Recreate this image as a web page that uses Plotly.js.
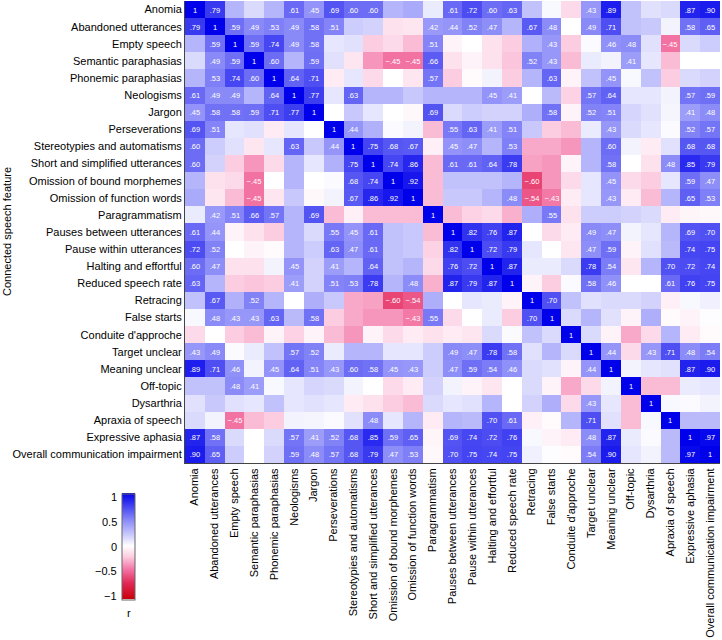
<!DOCTYPE html>
<html>
<head>
<meta charset="utf-8">
<script src="https://cdn.plot.ly/plotly-3.0.1.min.js"></script>
<style>html,body{margin:0;padding:0;background:#fff;}#chart{width:722px;height:640px;}</style>
</head>
<body>
<div id="chart"></div>
<script>
const features = ["Anomia","Abandoned utterances","Empty speech","Semantic paraphasias","Phonemic paraphasias","Neologisms","Jargon","Perseverations","Stereotypies and automatisms","Short and simplified utterances","Omission of bound morphemes","Omission of function words","Paragrammatism","Pauses between utterances","Pause within utterances","Halting and effortful","Reduced speech rate","Retracing","False starts","Conduite d'approche","Target unclear","Meaning unclear","Off-topic","Dysarthria","Apraxia of speech","Expressive aphasia","Overall communication impairment"];

// Upper-triangle correlations (each row: values with the following features)
const rAnomia = [.79,.30,.15,.30,.61,.45,.69,.60,.60,.30,.35,.08,.61,.72,.60,.63,.25,.03,-.15,.43,.89,.25,.12,.15,.87,.90];
const rAbandoned = [.59,.49,.53,.49,.58,.51,.20,.18,-.12,-.10,.42,.44,.52,.47,.30,.67,.48,0,.49,.71,.25,.22,.05,.58,.65];
const rEmpty = [.59,.74,.49,.58,.10,.12,-.20,-.15,-.25,.51,-.05,0,-.12,-.20,.32,.43,-.20,.02,.46,.48,.12,-.45,.15,.20];
const rSemantic = [.60,.30,.59,.12,-.10,-.35,-.45,-.45,.66,-.12,-.05,-.12,-.22,.52,.43,-.25,.08,.05,.41,.10,-.25,0,0];
const rPhonemic = [.64,.71,-.08,.10,-.15,0,-.10,.57,-.20,-.02,.05,-.20,.30,.63,-.05,.25,.45,.03,.25,-.20,.15,.18];
const rNeologisms = [.77,.10,.63,.30,.30,.22,.30,.30,.30,.45,.41,0,.28,-.18,.57,.64,.10,.10,.05,.57,.59];
const rJargon = [0,.22,.10,0,-.03,.69,.15,.20,.18,.18,.33,.58,-.05,.52,.51,.17,.12,.04,.41,.48];
const rPerseverations = [.44,.32,.02,.05,-.25,.55,.63,.41,.51,.22,-.20,-.25,.08,.43,.15,.10,.02,.52,.57];
const rStereotypies = [.75,.68,.67,-.06,.45,.47,.30,.53,-.30,-.30,-.35,.30,.60,.05,-.08,.12,.68,.68];
const rShort = [.74,.86,-.25,.61,.61,.64,.78,-.32,-.35,-.05,.30,.58,0,-.12,.48,.85,.79];
const rBoundMorph = [.92,-.25,.25,.25,.25,.30,-.60,-.35,-.15,.10,.45,-.15,-.20,.10,.59,.47];
const rFunctionWords = [-.25,.22,.22,.30,.48,-.54,-.43,-.08,.10,.43,-.08,-.25,.30,.65,.53];
const rParagrammatism = [-.25,-.18,-.15,-.28,.33,.55,-.12,.20,.20,.18,.15,-.08,-.04,-.03];
const rPausesBetween = [.82,.76,.87,0,-.15,-.08,.49,.47,.05,.10,.30,.69,.70];
const rPauseWithin = [.72,.79,.10,0,-.10,.47,.59,-.05,.12,.28,.74,.75];
const rHalting = [.87,.08,.08,.15,.78,.54,-.10,.30,.70,.72,.74];
const rReducedRate = [-.05,-.20,.02,.58,.46,0,0,.61,.76,.75];
const rRetracing = [.70,.25,.12,.15,.15,.18,-.06,.03,.06];
const rFalseStarts = [.15,.30,.12,-.05,.33,-.02,-.05,.01];
const rConduite = [.15,-.05,-.30,-.15,.30,-.08,-.02];
const rTargetUnclear = [.44,-.15,.43,.71,.48,.54];
const rMeaningUnclear = [.05,.10,.12,.87,.90];
const rOffTopic = [-.25,-.25,.08,.10];
const rDysarthria = [.03,.02,.05];
const rApraxia = [.28,.28];
const rExpressive = [.97];

const colorbarTicks = [1, 0.5, 0, -0.5, -1];
const colorbarTickText = ["1", "0.5", "0", "\u22120.5", "\u22121"];

const upper = [rAnomia,rAbandoned,rEmpty,rSemantic,rPhonemic,rNeologisms,rJargon,rPerseverations,rStereotypies,rShort,rBoundMorph,rFunctionWords,rParagrammatism,rPausesBetween,rPauseWithin,rHalting,rReducedRate,rRetracing,rFalseStarts,rConduite,rTargetUnclear,rMeaningUnclear,rOffTopic,rDysarthria,rApraxia,rExpressive];

const n = features.length;
const z = [];
for (let i = 0; i < n; i++) { z.push(new Array(n).fill(0)); z[i][i] = 1; }
upper.forEach((row, i) => row.forEach((v, k) => { const j = i + 1 + k; z[i][j] = v; z[j][i] = v; }));

function fmt(v) {
  if (v === 1) return "1";
  if (Math.abs(v) < 0.4) return "";
  const s = Math.round(Math.abs(v) * 100).toString().padStart(2, "0");
  return (v < 0 ? "\u2212" : "") + "." + s;
}
const text = z.map(r => r.map(fmt));

const W = 722, H = 640;
const M = {l: 185, r: 2, t: 1, b: 177};
const PW = W - M.l - M.r, PH = H - M.t - M.b;
const px = x => (x - M.l) / PW;
const py = y => (H - M.b - y) / PH;

const FONT = "Liberation Sans, Arial, sans-serif";

const cbTop = 497, cbBottom = 596;
const annotations = colorbarTicks.map((t, i) => ({
  xref: "paper", yref: "paper",
  x: px(119), y: py(cbTop + (1 - t) / 2 * (cbBottom - cbTop)),
  xanchor: "right", yanchor: "middle", showarrow: false,
  text: colorbarTickText[i], font: {family: FONT, size: 11, color: "#000"}
}));
annotations.push({xref: "paper", yref: "paper", x: px(128.5), y: py(613), xanchor: "center", yanchor: "middle",
  showarrow: false, text: "r", font: {family: FONT, size: 11, color: "#000"}});
annotations.push({xref: "paper", yref: "paper", x: px(7), y: py(232), xanchor: "center", yanchor: "middle",
  showarrow: false, textangle: -90, text: "Connected speech feature", font: {family: FONT, size: 11, color: "#000"}});

const trace = {
  type: "heatmap",
  x: features, y: features, z: z,
  text: text, texttemplate: "%{text}",
  textfont: {family: FONT, size: 7.5, color: "#ffffff"},
  zmin: -1, zmax: 1,
  colorscale: [[0, "rgb(200,0,10)"], [0.15, "rgb(225,40,85)"], [0.27, "rgb(242,110,160)"], [0.4, "rgb(252,205,225)"], [0.5, "rgb(255,255,255)"], [0.62, "rgb(195,195,252)"], [0.75, "rgb(135,135,248)"], [1, "rgb(0,0,235)"]],
  xgap: 0, ygap: 0,
  colorbar: {
    x: px(122), xanchor: "left", xpad: 0,
    y: py(546.5), yanchor: "middle", ypad: 0,
    len: 106, lenmode: "pixels", thickness: 13, thicknessmode: "pixels",
    showticklabels: false, ticks: "",
    outlinewidth: 1, outlinecolor: "#666"
  },
  hoverongaps: false
};

const layout = {
  width: W, height: H,
  margin: M,
  paper_bgcolor: "#fff", plot_bgcolor: "#fff",
  font: {family: FONT, size: 11, color: "#000"},
  xaxis: {type: "category", tickangle: -90, ticks: "", showgrid: false, zeroline: false,
    showline: true, linecolor: "#444", linewidth: 1, tickfont: {family: FONT, size: 11, color: "#000"}, automargin: false},
  yaxis: {type: "category", autorange: "reversed", ticks: "", showgrid: false, zeroline: false,
    showline: true, linecolor: "#444", linewidth: 1, tickfont: {family: FONT, size: 11, color: "#000"}, automargin: false},
  annotations: annotations
};

Plotly.newPlot("chart", [trace], layout, {displayModeBar: false, staticPlot: true});
</script>
</body>
</html>
